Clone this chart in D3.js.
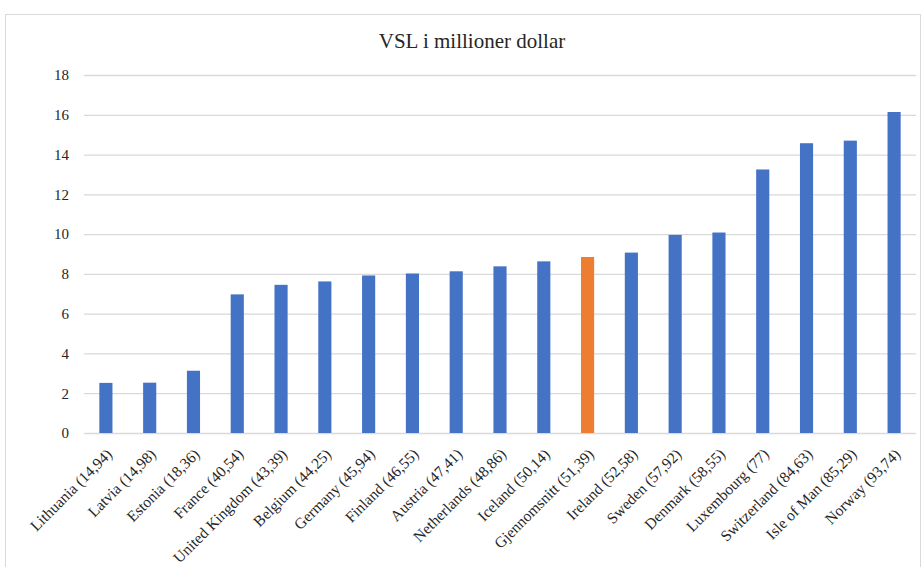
<!DOCTYPE html>
<html>
<head>
<meta charset="utf-8">
<script src="https://cdn.jsdelivr.net/npm/d3@7"></script>
<style>
  body { margin: 0; background: #fff; }
  text { font-family: "Liberation Serif", "Times New Roman", serif; fill: #262626; }
</style>
</head>
<body>
<svg id="svg"></svg>
<script>
// data
let countries = ['Lithuania (14,94)', 'Latvia (14,98)', 'Estonia (18,36)', 'France (40,54)',
  'United Kingdom (43,39)', 'Belgium (44,25)', 'Germany (45,94)', 'Finland (46,55)',
  'Austria (47,41)', 'Netherlands (48,86)', 'Iceland (50,14)', 'Gjennomsnitt (51,39)',
  'Ireland (52,58)', 'Sweden (57,92)', 'Denmark (58,55)', 'Luxembourg (77)',
  'Switzerland (84,63)', 'Isle of Man (85,29)', 'Norway (93,74)']
let vsl = [2.52, 2.53, 3.13, 6.97, 7.45, 7.62, 7.92, 8.02, 8.13, 8.38, 8.63, 8.85,
  9.07, 9.96, 10.08, 13.25, 14.57, 14.70, 16.14]
let highlight = 'Gjennomsnitt (51,39)'
let yTicks = [0, 2, 4, 6, 8, 10, 12, 14, 16, 18]
let title = 'VSL i millioner dollar'

let width = 924
let height = 567
let margin = {top: 75, left: 84, bottom: 134, right: 8}

let svg = d3.select('#svg')
  .attr('width', width)
  .attr('height', height)

// chart frame
svg.append('rect')
  .attr('x', 5.5).attr('y', 14.5)
  .attr('width', 915).attr('height', 570)
  .attr('fill', 'none')
  .attr('stroke', '#d9d9d9')

let data = countries.map((c, i) => ({name: c, value: vsl[i]}))

let xScale = d3.scaleBand()
  .domain(countries)
  .range([margin.left, width - margin.right])
  .paddingInner(0.7)
  .paddingOuter(0.35)

let yScale = d3.scaleLinear()
  .domain([0, 18])
  .range([height - margin.bottom, margin.top])

// gridlines + y labels
let yAxis = d3.axisLeft(yScale)
  .tickValues(yTicks)
  .tickSize(-(width - margin.left - margin.right))
  .tickPadding(15)

let yGroup = svg.append('g')
  .attr('transform', `translate(${margin.left},0)`)
  .attr('font-family', '"Liberation Serif", serif')
  .call(yAxis)
yGroup.select('.domain').remove()
yGroup.selectAll('.tick line').attr('stroke', '#d9d9d9').attr('stroke-width', 1.3)
yGroup.selectAll('.tick text')
  .style('font-family', '"Liberation Serif", serif')
  .style('font-size', '15px')
  .attr('fill', '#262626')

// bars
svg.append('g')
  .selectAll('rect')
  .data(data)
  .enter()
  .append('rect')
  .attr('x', d => xScale(d.name))
  .attr('y', d => yScale(d.value))
  .attr('width', xScale.bandwidth())
  .attr('height', d => yScale(0) - yScale(d.value))
  .attr('fill', d => d.name === highlight ? '#ED7D31' : '#4472C4')

// x labels, rotated
let xAxis = d3.axisBottom(xScale).tickSize(0).tickPadding(0)
let xGroup = svg.append('g')
  .attr('transform', `translate(0,${yScale(0)})`)
  .attr('font-family', '"Liberation Serif", serif')
  .call(xAxis)
xGroup.select('.domain').remove()
xGroup.selectAll('.tick text')
  .style('font-family', '"Liberation Serif", serif')
  .style('font-size', '15.5px')
  .attr('fill', '#262626')
  .attr('text-anchor', 'end')
  .attr('x', 0).attr('y', 0).attr('dy', '0.75em')
  .attr('transform', 'translate(-1,14) rotate(-45)')

// title
svg.append('text')
  .attr('x', 472)
  .attr('y', 48)
  .attr('text-anchor', 'middle')
  .style('font-size', '21px')
  .text(title)
</script>
</body>
</html>
